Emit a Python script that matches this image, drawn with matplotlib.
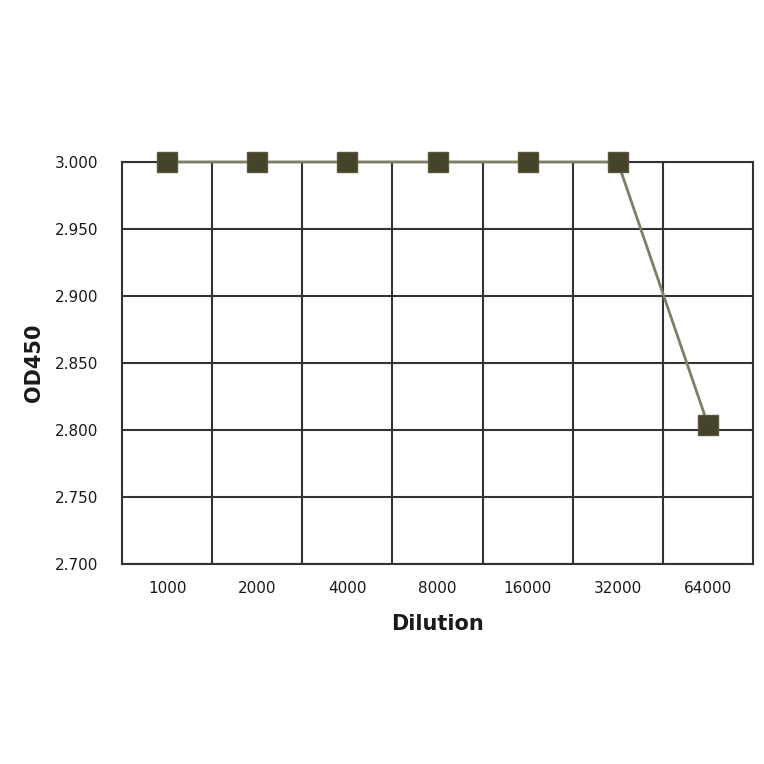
import matplotlib.pyplot as plt
import numpy as np
from matplotlib.ticker import FormatStrFormatter

dilutions = ["1000", "2000", "4000", "8000", "16000", "32000", "64000"]
od450 = [3.000, 3.000, 3.000, 3.000, 3.000, 3.000, 2.804]

plt.rcParams["font.family"] = ["DejaVu Sans"]

fig = plt.figure(figsize=(7.64, 7.64), dpi=100)
ax = fig.add_axes([0.1597, 0.2618, 0.8259, 0.5262])

x = np.arange(len(dilutions))
ax.plot(x, od450, color="#7d7f62", linewidth=2, marker="s", markersize=14,
        markerfacecolor="#454329", markeredgecolor="#5a5838", markeredgewidth=1,
        clip_on=False, zorder=5)

ax.set_xlim(-0.5, len(dilutions) - 0.5)
ax.set_ylim(2.7, 3.0)
ax.set_yticks(np.arange(2.7, 3.0001, 0.05))
ax.yaxis.set_major_formatter(FormatStrFormatter("%.3f"))
ax.set_xticks(x)
ax.set_xticklabels(dilutions)
ax.set_xticks(np.arange(0.5, len(dilutions) - 0.5, 1), minor=True)

ax.grid(True, which="major", axis="y", color="#333333", linewidth=1.5)
ax.grid(True, which="minor", axis="x", color="#333333", linewidth=1.5)
ax.tick_params(which="both", length=0, labelsize=11, colors="#1a1a1a")
ax.tick_params(axis="x", pad=12)
ax.tick_params(axis="y", pad=17)
for s in ax.spines.values():
    s.set_color("#333333")
    s.set_linewidth(1.5)

ax.set_xlabel("Dilution", fontsize=15, fontweight="bold", labelpad=13,
              color="#1a1a1a")
ax.set_ylabel("OD450", fontsize=15, fontweight="bold", labelpad=8,
              color="#1a1a1a")

fig.savefig("out.png", dpi=100)
